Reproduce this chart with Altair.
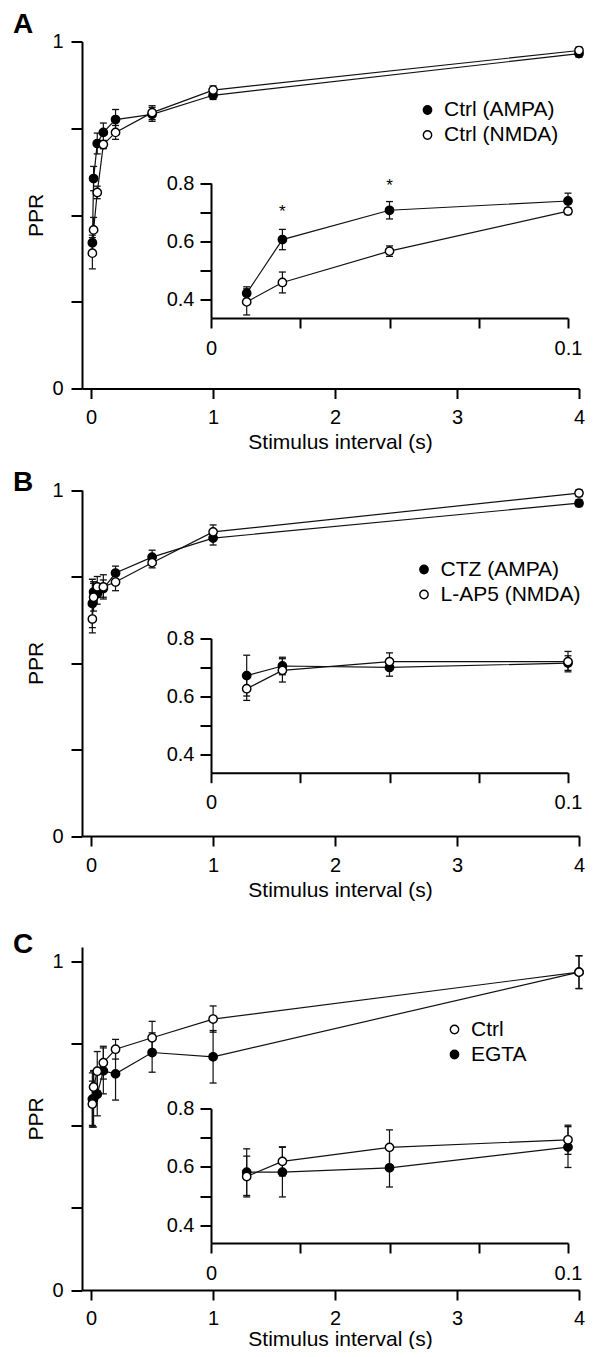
import altair as alt
import pandas as pd

FONT = "Liberation Sans"

# stimulus intervals (s)
INTERVALS = [0.01, 0.02, 0.05, 0.1, 0.2, 0.5, 1, 4]
XTICKS_MAIN = [0, 1, 2, 3, 4]
YTICKS_MAIN = [0, 0.25, 0.5, 0.75, 1]
XTICKS_INSET = [0, 0.025, 0.05, 0.075, 0.1]
YTICKS_INSET = [0.4, 0.5, 0.6, 0.7, 0.8]

# Panel A
A_NAMES = ["Ctrl (AMPA)", "Ctrl (NMDA)"]
A_FILLS = ["black", "white"]
A_AMPA = [0.42, 0.605, 0.706, 0.738, 0.775, 0.79, 0.845, 0.965]
A_AMPA_SEM = [0.022, 0.035, 0.03, 0.027, 0.029, 0.02, 0.012, 0.01]
A_NMDA = [0.39, 0.457, 0.565, 0.703, 0.738, 0.795, 0.86, 0.974]
A_NMDA_SEM = [0.045, 0.036, 0.018, 0.012, 0.02, 0.02, 0.012, 0.01]
A_STAR_X = [0.02, 0.05]
A_STAR_Y = [0.714, 0.803]

# Panel B
B_NAMES = ["CTZ (AMPA)", "L-AP5 (NMDA)"]
B_FILLS = ["black", "white"]
B_CTZ = [0.672, 0.705, 0.70, 0.715, 0.76, 0.806, 0.861, 0.962]
B_CTZ_SEM = [0.07, 0.03, 0.03, 0.025, 0.02, 0.02, 0.02, 0.01]
B_AP5 = [0.627, 0.69, 0.72, 0.72, 0.734, 0.79, 0.879, 0.991]
B_AP5_SEM = [0.04, 0.04, 0.03, 0.035, 0.025, 0.015, 0.02, 0.01]

# Panel C
C_NAMES = ["Ctrl", "EGTA"]
C_FILLS = ["white", "black"]
C_CTRL = [0.567, 0.619, 0.667, 0.693, 0.734, 0.769, 0.826, 0.969]
C_CTRL_SEM = [0.07, 0.05, 0.06, 0.05, 0.03, 0.05, 0.04, 0.05]
C_EGTA = [0.582, 0.582, 0.597, 0.668, 0.659, 0.724, 0.711, 0.969]
C_EGTA_SEM = [0.08, 0.085, 0.066, 0.07, 0.08, 0.06, 0.08, 0.05]

W = 497      # plot width
H = 1248.5   # figure height (top of A plot to bottom of C plot)


def frame(series_list):
    rows = []
    for name, ys, sems in series_list:
        for x, y, e in zip(INTERVALS, ys, sems):
            rows.append(dict(series=name, x=x, y=y, lo=y - e, hi=y + e))
    return pd.DataFrame(rows)


def layers(df, X, Y, ylo, yhi, fill):
    line = alt.Chart(df).mark_line(color="#111", strokeWidth=1.2).encode(
        x=X, y=Y, detail="series:N")
    rule = alt.Chart(df).mark_rule(color="#111", strokeWidth=1.2).encode(
        x=X, y=ylo, y2=alt.Y2("hi:Q"))
    cap_lo = alt.Chart(df).mark_tick(orient="horizontal", size=7, thickness=1.3,
                                     color="#111", opacity=1).encode(x=X, y=ylo)
    cap_hi = alt.Chart(df).mark_tick(orient="horizontal", size=7, thickness=1.3,
                                     color="#111", opacity=1).encode(x=X, y=yhi)
    pts = alt.Chart(df).mark_circle(size=70, opacity=1, stroke="black",
                                    strokeWidth=1.4).encode(x=X, y=Y, fill=fill)
    return [line, rule, cap_lo, cap_hi, pts]


def panel(letter, df, names, fills, y0, h, ytop, ins_top, ins_bot, ins_ybot, leg,
          letter_y, xlab_pad, xtitle_pad, stars=None):
    xm = alt.Scale(domain=[-0.075, 4], nice=False, zero=False)
    ym = alt.Scale(domain=[0, ytop], range=[y0 + h, y0], nice=False, zero=False)
    xax = alt.Axis(values=XTICKS_MAIN, format="d", title="Stimulus interval (s)",
                   titleX=258, tickSize=10, labelPadding=xlab_pad,
                   titlePadding=xtitle_pad, labelFlush=False,
                   orient="bottom", offset=(y0 + h) - H)
    yax = alt.Axis(values=YTICKS_MAIN,
                   labelExpr="datum.value == 1 ? '1' : (datum.value == 0 ? '0' : '')",
                   title="PPR", tickSize=11, labelPadding=8, titlePadding=5,
                   orient="left")
    X = alt.X("x:Q", scale=xm, axis=xax)
    Y = alt.Y("y:Q", scale=ym, axis=yax)
    Ylo = alt.Y("lo:Q", scale=ym, axis=yax)
    Yhi = alt.Y("hi:Q", scale=ym, axis=yax)
    fill = alt.Fill("series:N", scale=alt.Scale(domain=names, range=fills),
                    legend=alt.Legend(orient="none", legendX=leg[0],
                                      legendY=y0 + leg[1],
                                      title=None, labelFont=FONT, labelFontSize=21,
                                      labelColor="black", symbolType="circle",
                                      symbolSize=70, symbolStrokeColor="black",
                                      symbolStrokeWidth=1.4, labelOffset=6,
                                      rowPadding=3, padding=0))
    main = alt.layer(*layers(df, X, Y, Ylo, Yhi, fill))

    dfi = df[df["x"] <= 0.1]
    xi = alt.Scale(domain=[0, 0.1], range=[129, 486], nice=False, zero=False)
    yi = alt.Scale(domain=[ins_ybot, 0.8], range=[y0 + ins_bot, y0 + ins_top],
                   nice=False, zero=False)
    xiax = alt.Axis(values=XTICKS_INSET,
                    labelExpr="datum.value == 0 ? '0' : (datum.value > 0.09 ? '0.1' : '')",
                    title=None, tickSize=10, labelPadding=10, orient="bottom",
                    labelFlush=False, offset=(y0 + ins_bot) - H)
    yiax = alt.Axis(values=YTICKS_INSET,
                    labelExpr="(round(datum.value * 10) % 2 == 0) ? format(datum.value, '.1f') : ''",
                    title=None, tickSize=11, labelPadding=6, orient="left",
                    offset=-129)
    XI = alt.X("x:Q", scale=xi, axis=xiax)
    YI = alt.Y("y:Q", scale=yi, axis=yiax)
    YIlo = alt.Y("lo:Q", scale=yi, axis=yiax)
    YIhi = alt.Y("hi:Q", scale=yi, axis=yiax)
    ins_layers = layers(dfi, XI, YI, YIlo, YIhi, alt.Fill("series:N", legend=None))
    if stars is not None:
        sdf = pd.DataFrame({"x": stars[0], "y": stars[1]})
        ins_layers.append(
            alt.Chart(sdf).mark_text(text="*", fontSize=17, font=FONT, color="black",
                                     baseline="alphabetic", dy=9).encode(x=XI, y=YI))
    inset = alt.layer(*ins_layers)

    lab = alt.Chart(pd.DataFrame({"label": [letter]})).mark_text(
        font=FONT, fontSize=28, fontWeight="bold", color="black", align="left",
        baseline="alphabetic").encode(text="label:N", x=alt.value(-69),
                                      y=alt.value(y0 + letter_y))
    return alt.layer(main, inset, lab).resolve_scale(x="independent", y="independent")


dfA = frame([(A_NAMES[0], A_AMPA, A_AMPA_SEM), (A_NAMES[1], A_NMDA, A_NMDA_SEM)])
dfB = frame([(B_NAMES[0], B_CTZ, B_CTZ_SEM), (B_NAMES[1], B_AP5, B_AP5_SEM)])
dfC = frame([(C_NAMES[1], C_EGTA, C_EGTA_SEM), (C_NAMES[0], C_CTRL, C_CTRL_SEM)])

# panel tops in figure coords: A 0, B 448.5, C 905.5
pA = panel("A", dfA, A_NAMES, A_FILLS, 0, 347, 1.0, 141.5, 276.5, 0.3345,
           (335, 58), -8.2, 9, 4, stars=(A_STAR_X, A_STAR_Y))
pB = panel("B", dfB, B_NAMES, B_FILLS, 448.5, 346, 1.0, 148.3, 282.7, 0.339,
           (331.5, 69), 0.7, 9, 4)
pC = panel("C", dfC, C_NAMES, C_FILLS, 905.5, 343, 1.0457, 161.6, 296.0, 0.339,
           (362, 72), 6.3, 8, 0)

chart = alt.layer(pA, pB, pC).resolve_scale(
    x="independent", y="independent", fill="independent"
).properties(
    width=W, height=H,
    autosize=alt.AutoSizeParams(type="none"),
    padding={"left": 74, "top": 33.5, "right": 6, "bottom": 59}
).configure_axis(
    labelFont=FONT, titleFont=FONT, labelFontSize=20, titleFontSize=21,
    labelColor="black", titleColor="black", titleFontWeight="normal",
    domainColor="black", tickColor="black", domainWidth=2, tickWidth=2, grid=False
).configure_view(stroke=None)

chart.save("out.html", embed_options={"renderer": "svg", "actions": False})
